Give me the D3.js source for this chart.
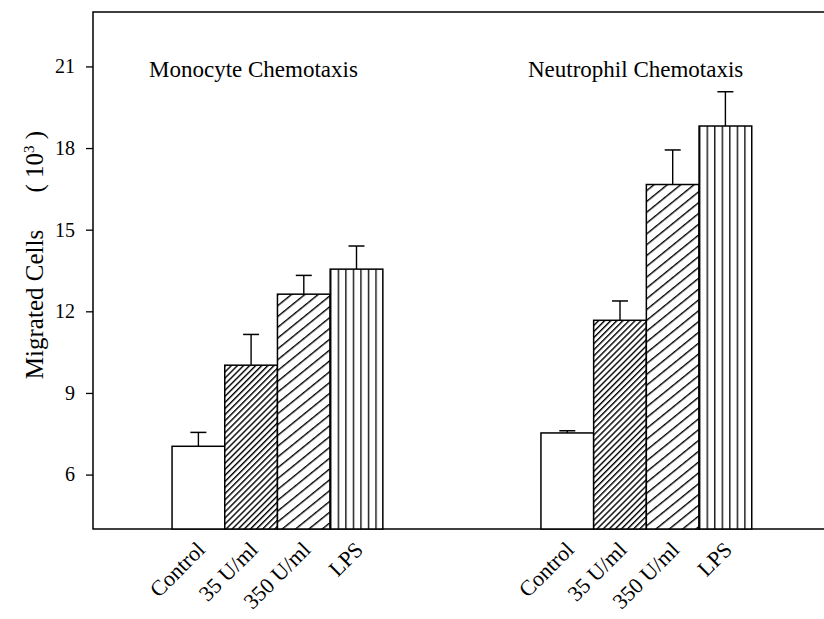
<!DOCTYPE html>
<html><head><meta charset="utf-8">
<script src="https://cdn.jsdelivr.net/npm/d3@7"></script>
<style>body{margin:0;background:#fff}svg{display:block}</style>
</head><body>
<svg id="c" width="824" height="619"></svg>
<script>
// ---- data ----
const categories = ["Control", "35 U/ml", "350 U/ml", "LPS"];
const groups = ["Monocyte Chemotaxis", "Neutrophil Chemotaxis"];
const monocyteValues = [7.04, 10.02, 12.63, 13.55];
const monocyteErrors = [0.51, 1.13, 0.69, 0.85];
const neutrophilValues = [7.53, 11.67, 16.66, 18.81];
const neutrophilErrors = [0.08, 0.71, 1.27, 1.26];
const yTicks = [6, 9, 12, 15, 18, 21];

const svg = d3.select("#c");
const font = "'Liberation Serif','Times New Roman',serif";

const y = d3.scaleLinear().domain([4, 23]).range([529, 12]);
const x = d3.scaleLinear().domain([0, 14]).range([93, 93 + 14 * 52.7]);
const groupStart = [1.5, 8.5];
const patterns = ["none", "url(#hDense)", "url(#hWide)", "url(#vLines)"];

// patterns
const defs = svg.append("defs");
const p1 = defs.append("pattern").attr("id", "hDense").attr("patternUnits", "userSpaceOnUse")
  .attr("width", 4.3).attr("height", 20).attr("patternTransform", "rotate(45)");
p1.append("rect").attr("width", 4.3).attr("height", 20).attr("fill", "#fff");
p1.append("line").attr("x1", 0.7).attr("x2", 0.7).attr("y1", 0).attr("y2", 20).attr("stroke", "#000").attr("stroke-width", 1.4);
const p2 = defs.append("pattern").attr("id", "hWide").attr("patternUnits", "userSpaceOnUse")
  .attr("width", 8.4).attr("height", 20).attr("patternTransform", "rotate(51)");
p2.append("rect").attr("width", 8.4).attr("height", 20).attr("fill", "#fff");
p2.append("line").attr("x1", 0.7).attr("x2", 0.7).attr("y1", 0).attr("y2", 20).attr("stroke", "#000").attr("stroke-width", 1.4);
const p3 = defs.append("pattern").attr("id", "vLines").attr("patternUnits", "objectBoundingBox")
  .attr("width", 1 / 7).attr("height", 1);
p3.append("rect").attr("width", 20).attr("height", 1000).attr("fill", "#fff");
p3.append("line").attr("x1", 0.7).attr("x2", 0.7).attr("y1", 0).attr("y2", 1000).attr("stroke", "#000").attr("stroke-width", 1.3);

// frame
svg.append("path")
  .attr("d", `M${x(14)},${y(23)}H${x(0)}V${y(4)}H${x(14)}`)
  .attr("fill", "none").attr("stroke", "#000").attr("stroke-width", 1.5);

// y axis
const yAxis = svg.append("g").attr("transform", `translate(${x(0)},0)`)
  .call(d3.axisLeft(y).tickValues(yTicks).tickSize(7).tickPadding(11).tickFormat(d3.format("d")));
yAxis.select(".domain").remove();
yAxis.selectAll("line").attr("stroke", "#000").attr("stroke-width", 1.3);
yAxis.selectAll("text").attr("font-family", font).attr("font-size", 20).attr("fill", "#000");

// bars
const data = [
  { vals: monocyteValues, errs: monocyteErrors },
  { vals: neutrophilValues, errs: neutrophilErrors }
];
data.forEach((g, gi) => {
  const gg = svg.append("g");
  const items = g.vals.map((v, i) => ({ v, e: g.errs[i], i, pos: groupStart[gi] + i }));
  gg.selectAll("line.err").data(items).join("line")
    .attr("x1", d => x(d.pos + 0.5)).attr("x2", d => x(d.pos + 0.5))
    .attr("y1", d => y(d.v)).attr("y2", d => y(d.v + d.e))
    .attr("stroke", "#000").attr("stroke-width", 1.4);
  gg.selectAll("line.cap").data(items).join("line")
    .attr("x1", d => x(d.pos + 0.5) - 8).attr("x2", d => x(d.pos + 0.5) + 8)
    .attr("y1", d => y(d.v + d.e)).attr("y2", d => y(d.v + d.e))
    .attr("stroke", "#000").attr("stroke-width", 1.5);
  gg.selectAll("rect").data(items).join("rect")
    .attr("x", d => x(d.pos)).attr("width", d => x(d.pos + 1) - x(d.pos))
    .attr("y", d => y(d.v)).attr("height", d => y(4) - y(d.v))
    .attr("fill", d => d.i === 0 ? "#fff" : patterns[d.i])
    .attr("stroke", "#000").attr("stroke-width", 1.5);
  gg.selectAll("text.cat").data(items).join("text")
    .attr("transform", d => `translate(${x(d.pos + 0.5) + 8},${y(4) + 22}) rotate(-45)`)
    .attr("text-anchor", "end")
    .attr("font-family", font).attr("font-size", 22).attr("fill", "#000")
    .text(d => categories[d.i]);
});

// group titles
svg.selectAll("text.title").data(groups).join("text")
  .attr("x", (d, i) => i === 0 ? 149 : 528)
  .attr("y", 77)
  .attr("font-family", font).attr("font-size", 23).attr("fill", "#000")
  .text(d => d);

// y-axis title
svg.append("text")
  .attr("transform", `translate(43,${y(12.25)}) rotate(-90)`)
  .attr("text-anchor", "middle").attr("font-family", font).attr("font-size", 25)
  .text("Migrated Cells");
const t2 = svg.append("text")
  .attr("transform", `translate(43,${y(17.5)}) rotate(-90)`)
  .attr("text-anchor", "middle").attr("font-family", font).attr("font-size", 25)
  .attr("xml:space", "preserve");
t2.append("tspan").text("( 10");
t2.append("tspan").attr("dy", -9).attr("font-size", 15).text("3");
t2.append("tspan").attr("dy", 9).text(" )");
</script>
</body></html>
